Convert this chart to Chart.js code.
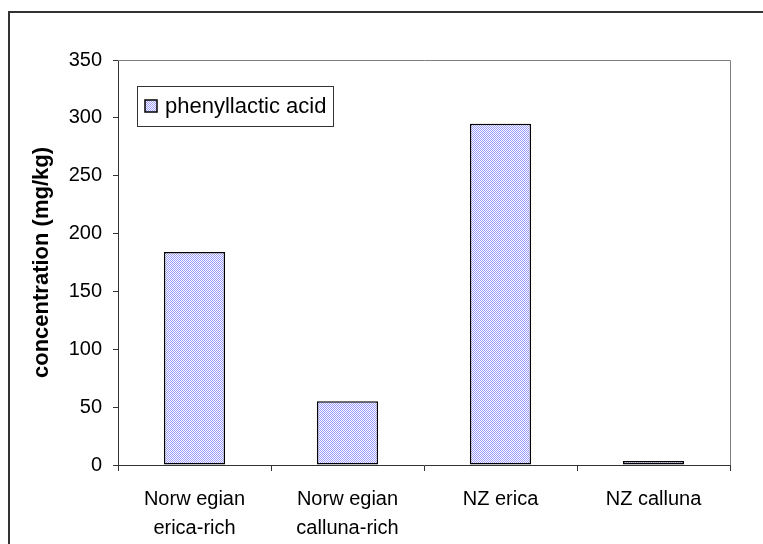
<!DOCTYPE html>
<html>
<head>
<meta charset="utf-8">
<script src="https://cdn.jsdelivr.net/npm/chart.js@4"></script>
<style>
  html, body { margin: 0; padding: 0; background: #fff; overflow: hidden; }
  #wrap { position: relative; width: 763px; height: 544px; }
  #frame { position: absolute; left: 8px; top: 11px; width: 820px; height: 600px; border: 2px solid #333; box-sizing: border-box; }
  canvas { position: absolute; left: 0; top: 0; }
</style>
</head>
<body>
<div id="wrap">
  <div id="frame"></div>
  <canvas id="c" width="763" height="544"></canvas>
</div>
<script>
const categories = [["Norw egian", "erica-rich"], ["Norw egian", "calluna-rich"], "NZ erica", "NZ calluna"];
const seriesName = "phenyllactic acid";
const seriesValues = [184, 55, 295, 3.5];
const yAxisTitle = "concentration (mg/kg)";
const yMin = 0, yMax = 350, yStep = 50;

const FONT = "'Liberation Sans', Arial, sans-serif";

function makePattern() {
  const p = document.createElement('canvas');
  p.width = 2; p.height = 2;
  const g = p.getContext('2d');
  g.fillStyle = '#ffffff';
  g.fillRect(0, 0, 2, 2);
  g.fillStyle = '#9999ff';
  g.fillRect(0, 0, 1, 1);
  g.fillRect(1, 1, 1, 1);
  return document.getElementById('c').getContext('2d').createPattern(p, 'repeat');
}
const pattern = makePattern();

const framePlugin = {
  id: 'frameLegend',
  afterDraw(chart) {
    const ctx = chart.ctx;
    const a = chart.chartArea;
    ctx.save();
    ctx.strokeStyle = '#808080';
    ctx.lineWidth = 1;
    ctx.beginPath();
    ctx.moveTo(a.left, a.top + 0.5);
    ctx.lineTo(a.right + 0.5, a.top + 0.5);
    ctx.lineTo(a.right + 0.5, a.bottom);
    ctx.stroke();
    const ds = chart.data.datasets[0];
    const bx = a.left + 19, by = a.top + 26, bw = 196, bh = 40;
    ctx.fillStyle = '#fff';
    ctx.fillRect(bx, by, bw, bh);
    ctx.strokeStyle = '#333';
    ctx.strokeRect(bx + 0.5, by + 0.5, bw, bh);
    ctx.fillStyle = pattern;
    ctx.fillRect(bx + 8, by + 14, 12, 12);
    ctx.strokeStyle = '#000';
    ctx.lineWidth = 1.5;
    ctx.strokeRect(bx + 8, by + 14, 12, 12);
    ctx.fillStyle = '#000';
    ctx.font = '22px ' + FONT;
    ctx.textBaseline = 'middle';
    ctx.textAlign = 'left';
    ctx.fillText(ds.label, bx + 28, by + bh / 2 + 1);
    ctx.restore();
  }
};

new Chart(document.getElementById('c'), {
  type: 'bar',
  data: {
    labels: categories,
    datasets: [{
      label: seriesName,
      data: seriesValues,
      backgroundColor: pattern,
      borderColor: '#000',
      borderWidth: 1.5,
      borderSkipped: false,
      categoryPercentage: 1,
      barPercentage: 0.4
    }]
  },
  options: {
    responsive: false,
    maintainAspectRatio: false,
    animation: false,
    devicePixelRatio: 1,
    layout: { padding: { left: 0, top: 60, right: 33, bottom: 0 } },
    plugins: { legend: { display: false }, tooltip: { enabled: false } },
    scales: {
      x: {
        offset: true,
        grid: { offset: true, drawOnChartArea: false, drawTicks: true, tickLength: 6, color: '#333' },
        border: { display: true, color: '#333', width: 1 },
        ticks: { color: '#000', font: { family: FONT, size: 20, lineHeight: 1.45 }, padding: 14, maxRotation: 0, autoSkip: false },
        afterFit(s) { s.height = 79; }
      },
      y: {
        min: yMin, max: yMax,
        grid: { drawOnChartArea: false, drawTicks: true, tickLength: 5, color: '#333' },
        border: { display: true, color: '#333', width: 1 },
        ticks: { stepSize: yStep, color: '#000', font: { family: FONT, size: 20 }, padding: 11 },
        title: { display: true, text: yAxisTitle, color: '#000', font: { family: FONT, size: 22, weight: 'bold', lineHeight: 1.2 }, padding: { top: 29, bottom: 0 } },
        afterFit(s) { s.width = 118; }
      }
    }
  },
  plugins: [framePlugin]
});
</script>
</body>
</html>
